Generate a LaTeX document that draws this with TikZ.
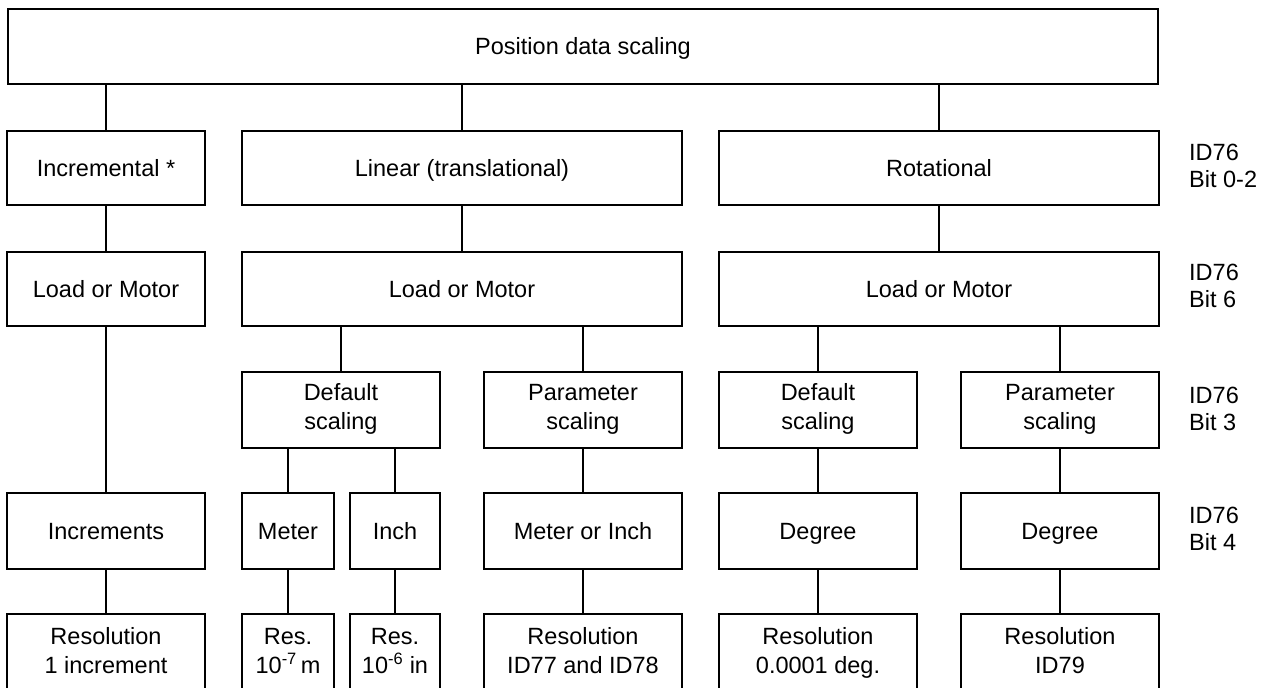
\documentclass[tikz,border=0pt]{standalone}
\usepackage{fontspec}
\setmainfont{Liberation Sans}
\newcommand\lnst{\rule[-6.1pt]{0pt}{29pt}}
\begin{document}
\begin{tikzpicture}[x=1pt,y=-1pt,
  box/.style={draw=black, line width=1.8pt, inner sep=0pt, align=center,
    font=\fontsize{23.5}{29}\selectfont, execute at begin node=\lnst},
  conn/.style={draw=black, line width=1.8pt},
  side/.style={anchor=west, align=left, inner sep=0pt, font=\fontsize{23.5}{27}\selectfont}]
\useasboundingbox (0,0) rectangle (1270,688);
\clip (0,0) rectangle (1270,688);
% row 1
\node[box, minimum width=1150pt, minimum height=75pt] (top) at (583,46.5) {Position data scaling};
% row 2
\node[box, minimum width=198pt, minimum height=74pt] (inc) at (106,168) {Incremental *};
\node[box, minimum width=440pt, minimum height=74pt] (lin) at (462,168) {Linear (translational)};
\node[box, minimum width=440pt, minimum height=74pt] (rot) at (939,168) {Rotational};
% row 3
\node[box, minimum width=198pt, minimum height=74pt] (incLM) at (106,289) {Load or Motor};
\node[box, minimum width=440pt, minimum height=74pt] (linLM) at (462,289) {Load or Motor};
\node[box, minimum width=440pt, minimum height=74pt] (rotLM) at (939,289) {Load or Motor};
% row 4
\node[box, minimum width=198pt, minimum height=76pt] (linDef) at (341,410) {Default\\\lnst scaling};
\node[box, minimum width=198pt, minimum height=76pt] (linPar) at (583,410) {Parameter\\\lnst scaling};
\node[box, minimum width=198pt, minimum height=76pt] (rotDef) at (818,410) {Default\\\lnst scaling};
\node[box, minimum width=198pt, minimum height=76pt] (rotPar) at (1060,410) {Parameter\\\lnst scaling};
% row 5
\node[box, minimum width=198pt, minimum height=76pt] (incs) at (106,531) {Increments};
\node[box, minimum width=92pt, minimum height=76pt] (meter) at (288,531) {Meter};
\node[box, minimum width=90pt, minimum height=76pt] (inch) at (395,531) {Inch};
\node[box, minimum width=198pt, minimum height=76pt] (moi) at (583,531) {Meter or Inch};
\node[box, minimum width=198pt, minimum height=76pt] (deg1) at (818,531) {Degree};
\node[box, minimum width=198pt, minimum height=76pt] (deg2) at (1060,531) {Degree};
% row 6
\node[box, minimum width=198pt, minimum height=80pt] (resInc) at (106,654) {Resolution\\\lnst 1 increment};
\node[box, minimum width=92pt, minimum height=80pt] (resM) at (288,654) {Res.\\\lnst 10\textsuperscript{-7}\,m};
\node[box, minimum width=90pt, minimum height=80pt] (resIn) at (395,654) {Res.\\\lnst 10\textsuperscript{-6} in};
\node[box, minimum width=198pt, minimum height=80pt] (resMoI) at (583,654) {Resolution\\\lnst ID77 and ID78};
\node[box, minimum width=198pt, minimum height=80pt] (resD1) at (818,654) {Resolution\\\lnst 0.0001 deg.};
\node[box, minimum width=198pt, minimum height=80pt] (resD2) at (1060,654) {Resolution\\\lnst ID79};
% connectors
\draw[conn] (top.south -| inc.north) -- (inc.north);
\draw[conn] (top.south -| lin.north) -- (lin.north);
\draw[conn] (top.south -| rot.north) -- (rot.north);
\draw[conn] (inc.south) -- (incLM.north);
\draw[conn] (lin.south) -- (linLM.north);
\draw[conn] (rot.south) -- (rotLM.north);
\draw[conn] (incLM.south) -- (incs.north);
\draw[conn] (linLM.south -| linDef.north) -- (linDef.north);
\draw[conn] (linLM.south -| linPar.north) -- (linPar.north);
\draw[conn] (rotLM.south -| rotDef.north) -- (rotDef.north);
\draw[conn] (rotLM.south -| rotPar.north) -- (rotPar.north);
\draw[conn] (linDef.south -| meter.north) -- (meter.north);
\draw[conn] (linDef.south -| inch.north) -- (inch.north);
\draw[conn] (linPar.south) -- (moi.north);
\draw[conn] (rotDef.south) -- (deg1.north);
\draw[conn] (rotPar.south) -- (deg2.north);
\draw[conn] (incs.south) -- (resInc.north);
\draw[conn] (meter.south) -- (resM.north);
\draw[conn] (inch.south) -- (resIn.north);
\draw[conn] (moi.south) -- (resMoI.north);
\draw[conn] (deg1.south) -- (resD1.north);
\draw[conn] (deg2.south) -- (resD2.north);
% side labels
\node[side] (l1) at (1189,166) {ID76\\Bit 0-2};
\node[side] (l2) at (1189,286) {ID76\\Bit 6};
\node[side] (l3) at (1189,409) {ID76\\Bit 3};
\node[side] (l4) at (1189,529) {ID76\\Bit 4};
\end{tikzpicture}
\end{document}
